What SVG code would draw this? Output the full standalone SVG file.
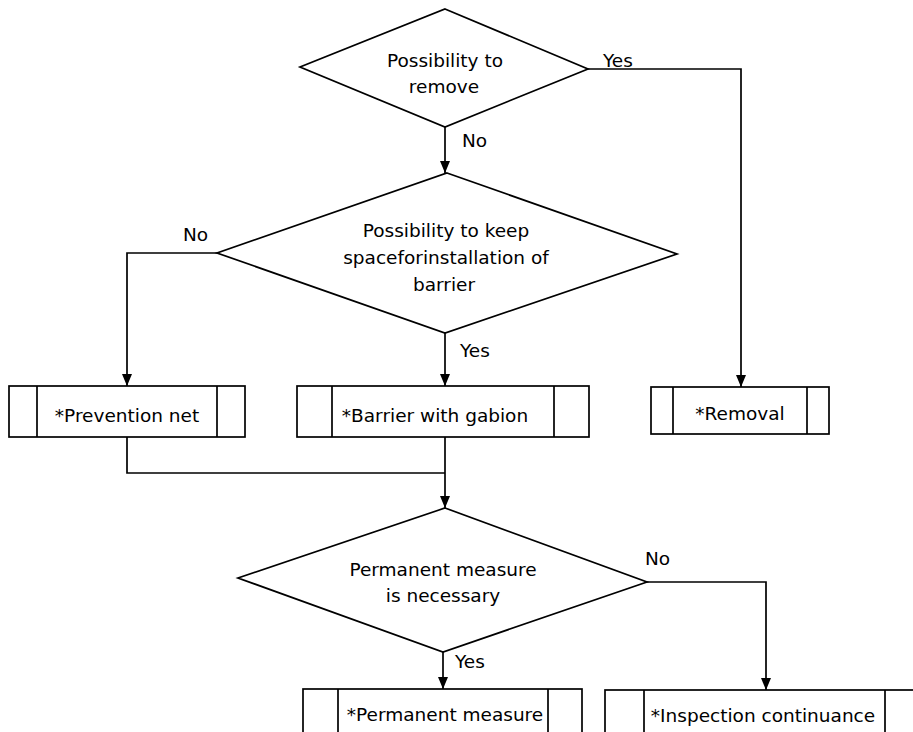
<svg xmlns="http://www.w3.org/2000/svg" width="913" height="732" viewBox="0 0 913 732">
  <style>
    .shape { fill: #ffffff; stroke: #000000; stroke-width: 1.7; }
    .bar { fill: none; stroke: #000000; stroke-width: 1.7; }
    .conn { fill: none; stroke: #000000; stroke-width: 1.7; }
    .head { fill: #000000; }
    text { font-family: "DejaVu Sans", "Liberation Sans", sans-serif; font-size: 18.5px; fill: #000000; }
    .c { text-anchor: middle; }
  </style>
  <rect width="913" height="732" fill="#ffffff"/>

  <!-- connectors -->
  <g id="connectors">
    <path class="conn" d="M445,127 V173"/>
    <path class="conn" d="M588,69 H741 V387"/>
    <path class="conn" d="M217,253 H127 V386"/>
    <path class="conn" d="M445,333 V386"/>
    <path class="conn" d="M127,437 V473 H445"/>
    <path class="conn" d="M445,437 V508"/>
    <path class="conn" d="M443,652 V689"/>
    <path class="conn" d="M647,582 H766 V690"/>
    <!-- arrowheads -->
    <path class="head" d="M440,161 L450,161 L445,173 Z"/>
    <path class="head" d="M736,375 L746,375 L741,387 Z"/>
    <path class="head" d="M122,374 L132,374 L127,386 Z"/>
    <path class="head" d="M440,374 L450,374 L445,386 Z"/>
    <path class="head" d="M440,496 L450,496 L445,508 Z"/>
    <path class="head" d="M438,677 L448,677 L443,689 Z"/>
    <path class="head" d="M761,678 L771,678 L766,690 Z"/>
    <text x="603" y="67">Yes</text>
    <text x="462" y="147">No</text>
    <text x="183" y="241">No</text>
    <text x="460" y="357">Yes</text>
    <text x="645" y="565">No</text>
    <text x="455" y="668">Yes</text>
  </g>

  <!-- decision: possibility to remove -->
  <g id="decision-remove">
    <polygon class="shape" points="445,9 588,69 445,127 300,67"/>
    <text class="c" x="445" y="67">Possibility to</text>
    <text class="c" x="444" y="93">remove</text>
  </g>

  <!-- decision: space for barrier -->
  <g id="decision-space">
    <polygon class="shape" points="447,173 677,254 445,333 217,253"/>
    <text class="c" x="446" y="237">Possibility to keep</text>
    <text class="c" x="446" y="264">spaceforinstallation of</text>
    <text class="c" x="444" y="291">barrier</text>
  </g>

  <!-- process: prevention net -->
  <g id="prevention-net">
    <rect class="shape" x="9" y="386" width="236" height="51"/>
    <path class="bar" d="M37,386 V437 M217,386 V437"/>
    <text class="c" x="127" y="422">*Prevention net</text>
  </g>

  <!-- process: barrier with gabion -->
  <g id="barrier-gabion">
    <rect class="shape" x="297" y="386" width="292" height="51"/>
    <path class="bar" d="M332,386 V437 M554,386 V437"/>
    <text class="c" x="435" y="422">*Barrier with gabion</text>
  </g>

  <!-- process: removal -->
  <g id="removal">
    <rect class="shape" x="651" y="387" width="178" height="47"/>
    <path class="bar" d="M673,387 V434 M807,387 V434"/>
    <text class="c" x="740" y="420">*Removal</text>
  </g>

  <!-- decision: permanent measure -->
  <g id="decision-permanent">
    <polygon class="shape" points="445,508 647,582 443,652 238,578"/>
    <text class="c" x="443" y="576">Permanent measure</text>
    <text class="c" x="443" y="602">is necessary</text>
  </g>

  <!-- process: permanent measure -->
  <g id="permanent-measure">
    <rect class="shape" x="303" y="689" width="279" height="60"/>
    <path class="bar" d="M338,689 V749 M548,689 V749"/>
    <text class="c" x="445" y="721">*Permanent measure</text>
  </g>

  <!-- process: inspection continuance -->
  <g id="inspection-continuance">
    <rect class="shape" x="605" y="690" width="320" height="60"/>
    <path class="bar" d="M644,690 V750 M885,690 V750"/>
    <text class="c" x="763" y="722">*Inspection continuance</text>
  </g>
</svg>
